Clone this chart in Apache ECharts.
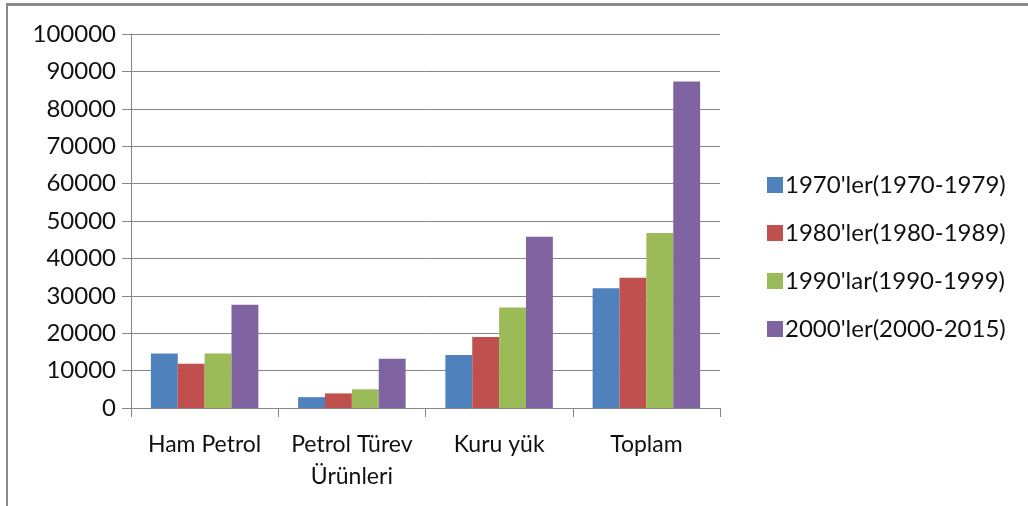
<!DOCTYPE html>
<html>
<head>
<meta charset="utf-8">
<script src="https://cdn.jsdelivr.net/npm/echarts@6/dist/echarts.min.js"></script>
<style>
  html, body { margin: 0; padding: 0; background: #fff; }
  #frame { position: absolute; left: 6px; top: 3px; width: 1030px; height: 520px;
           border-top: 3px solid #8a8a8a; border-left: 2px solid #8a8a8a; }
  #chart { position: absolute; left: 0; top: 0; width: 1028px; height: 506px; }
</style>
</head>
<body>
<div id="frame"></div>
<div id="chart"></div>
<script>
  const categories = ['Ham Petrol', 'Petrol Türev\nÜrünleri', 'Kuru yük', 'Toplam'];
  const seriesNames = ["1970'ler(1970-1979)", "1980'ler(1980-1989)", "1990'lar(1990-1999)", "2000'ler(2000-2015)"];
  const v1970 = [14600, 2900, 14200, 32000];
  const v1980 = [11850, 3900, 19000, 34850];
  const v1990 = [14600, 5000, 26900, 46800];
  const v2000 = [27600, 13200, 45800, 87300];
  const colors = ['#4F81BD', '#C0504D', '#9BBB59', '#8064A2'];

  const font = 'Lato, "Open Sans", sans-serif';
  const chart = echarts.init(document.getElementById('chart'), null, { renderer: 'canvas' });
  chart.setOption({
    animation: false,
    textStyle: { fontFamily: font },
    grid: { left: 131, right: 308, top: 34, bottom: 98 },
    legend: {
      orient: 'vertical', left: 762, top: 168, itemGap: 24,
      itemWidth: 16, itemHeight: 16, icon: 'rect',
      textStyle: { fontSize: 24, color: '#111', fontFamily: font, padding: [0, 0, 0, -3] },
      data: seriesNames
    },
    xAxis: {
      type: 'category', data: categories,
      axisLine: { lineStyle: { color: '#868686', width: 1 } },
      axisTick: { show: true, length: 9, lineStyle: { color: '#868686' } },
      axisLabel: { fontSize: 23, color: '#111', margin: 21, lineHeight: 32, interval: 0 }
    },
    yAxis: {
      type: 'value', min: 0, max: 100000, interval: 10000,
      axisLine: { show: true, lineStyle: { color: '#868686', width: 1 } },
      axisTick: { show: true, length: 9, lineStyle: { color: '#868686' } },
      axisLabel: { fontSize: 24, color: '#111', margin: 15, formatter: v => String(v) },
      splitLine: { lineStyle: { color: '#868686', width: 1 } }
    },
    series: [v1970, v1980, v1990, v2000].map((d, i) => ({
      name: seriesNames[i], type: 'bar', data: d,
      barGap: '0%', barCategoryGap: '27%',
      itemStyle: { color: colors[i] }
    }))
  });
</script>
</body>
</html>
